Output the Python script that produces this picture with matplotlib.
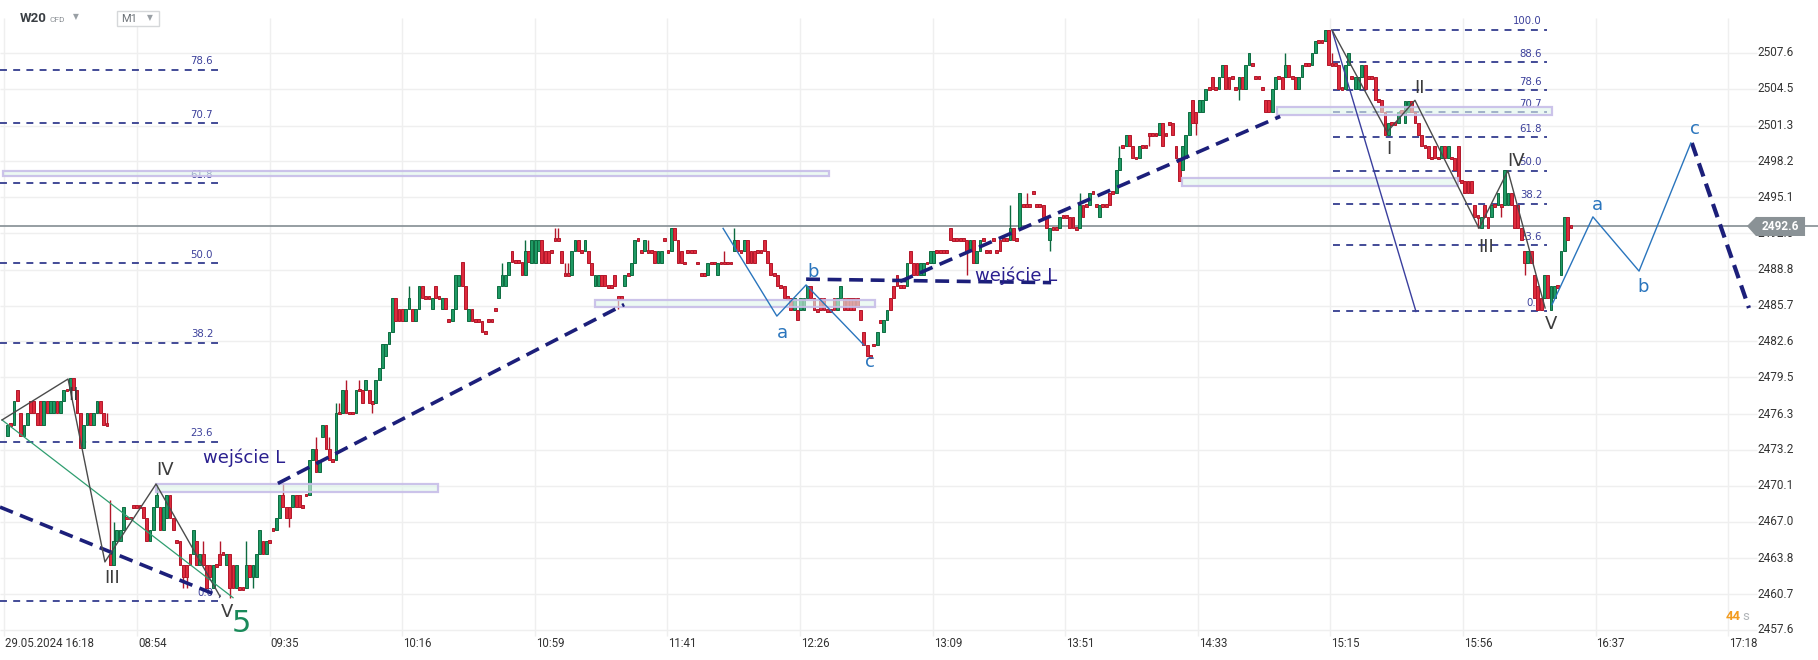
import matplotlib
matplotlib.use("Agg")
import matplotlib.pyplot as plt
from matplotlib.patches import Rectangle, Polygon

plt.rcParams['lines.scale_dashes'] = False

# --- bougies M1 (open, close) ---
seg_29may = [(2474.4,2475.4),(2475.4,2475.4),(2475.4,2477.4),(2478.4,2477.4),(2476.4,2474.4),(2474.4,2475.4),
             (2475.4,2476.4),(2477.4,2476.4),(2477.4,2476.4),(2476.4,2475.4),(2477.4,2475.4),(2475.4,2477.4),
             (2477.4,2476.4),(2476.4,2477.4),(2476.4,2477.4),(2477.4,2476.4),(2476.4,2477.4),(2477.4,2478.4),
             (2478.4,2478.4),(2478.4,2479.4),(2479.4,2478.4),(2478.4,2476.4),(2476.4,2473.4),(2473.4,2475.4),
             (2475.4,2476.4),(2476.4,2475.4),(2475.4,2476.4),(2476.4,2477.4),(2477.4,2476.4),(2476.4,2475.4),
             (2475.4,2475.4)]
seg_open = [(2464.2,2463.2),(2463.2,2465.3),(2465.3,2466.3),(2465.3,2466.3),(2466.3,2468.3),(2467.3,2467.3),
            (2467.3,2467.3),(2468.3,2468.3),(2468.3,2468.3),(2468.3,2468.3),(2468.3,2467.3),(2467.3,2465.3),
            (2465.3,2466.3),(2466.3,2468.3),(2468.3,2469.3),(2468.3,2466.3),(2466.3,2468.3),(2467.3,2469.3),
            (2469.3,2467.3),(2467.3,2466.3),(2465.3,2465.3),(2465.3,2463.2),(2463.2,2462.2),(2463.2,2462.2),
            (2464.2,2463.2),(2464.2,2466.3),(2465.3,2463.2),(2463.2,2464.2),(2464.2,2463.2),(2463.2,2461.2),
            (2463.2,2462.2),(2461.2,2463.2),(2463.2,2463.2),(2464.2,2463.2),(2464.2,2464.2),(2463.2,2464.2),
            (2464.2,2461.2),(2463.2,2461.2),(2461.2,2463.2),(2461.2,2461.2),(2461.2,2461.2),(2461.2,2463.2),
            (2463.2,2462.2),(2462.2,2463.2),(2462.2,2464.2),(2464.2,2466.3),(2465.3,2464.2),(2464.2,2465.3),
            (2465.3,2465.3),(2466.3,2466.3),(2466.3,2467.3),(2467.3,2469.3),(2469.3,2468.3)]
seg_rally = [(2468.3,2467.3),(2468.3,2467.3),(2468.3,2469.3),(2469.3,2468.3),(2469.3,2468.3),(2468.3,2468.3),
             (2469.3,2469.3),(2469.3,2472.3),(2472.3,2473.3),(2473.3,2471.3),(2471.3,2472.3),(2474.3,2475.4),
             (2475.4,2473.3),(2473.3,2472.3),(2472.3,2472.3),(2472.3,2476.4),(2476.4,2476.4),(2476.4,2478.4),
             (2478.4,2476.4),(2476.4,2476.4),(2476.4,2476.4),(2476.4,2478.4),(2478.4,2478.4),(2478.4,2477.3),
             (2478.4,2479.3),(2478.4,2477.3),(2477.3,2477.3),(2477.3,2479.3),(2479.3,2480.3),(2480.3,2482.4),
             (2481.3,2482.4),(2482.4,2483.4),(2483.4,2486.4),(2486.4,2484.4),(2485.4,2484.4),(2485.4,2484.4),
             (2484.4,2485.4),(2485.4,2486.4),(2485.4,2484.4),(2484.4,2485.4),(2485.4,2487.4),(2487.4,2486.4),
             (2486.4,2486.4),(2486.4,2486.4),(2485.4,2486.4),(2487.4,2486.4),(2486.4,2486.4),(2485.4,2486.4),
             (2486.4,2485.4),(2484.4,2484.4),(2484.4,2485.4),(2485.4,2488.4),(2487.4,2488.4),(2489.5,2487.4),
             (2487.4,2485.4),(2484.4,2485.4),(2485.4,2484.4),(2484.4,2484.4),(2484.4,2484.4),(2484.4,2483.4),
             (2483.4,2483.4),(2484.4,2484.4),(2484.4,2484.4),(2485.4,2485.4),(2486.4,2487.4),(2487.4,2488.4),
             (2487.4,2488.4),(2488.4,2489.5),(2490.4,2489.5),(2489.5,2489.5),(2489.5,2489.5),(2489.5,2488.4),
             (2488.4,2490.4),(2490.4,2489.5)]
seg_range = [(2489.4,2491.4),(2489.4,2491.4),(2490.4,2491.4),(2491.4,2489.4),(2490.4,2489.4),(2490.4,2489.4),
             (2490.4,2490.4),(2491.4,2491.4),(2491.4,2491.4),(2490.4,2489.4),(2488.4,2488.4),(2488.4,2488.4),
             (2488.4,2490.4),(2490.4,2491.4),(2491.4,2490.4),(2490.4,2490.4),(2490.4,2491.4),(2490.4,2489.4),
             (2489.4,2488.4),(2487.4,2488.4),(2487.4,2488.4),(2488.4,2487.4),(2488.4,2487.4),(2487.4,2487.4),
             (2487.4,2487.4),(2488.4,2487.4),(2486.4,2486.4),(2486.4,2486.4),(2487.4,2488.4),(2488.4,2488.4),
             (2488.4,2489.4),(2489.4,2491.4),(2491.4,2491.4),(2490.4,2490.4),(2490.4,2491.4),(2490.4,2490.4),
             (2490.4,2490.4),(2490.4,2489.4),(2489.4,2490.4),(2489.4,2490.4),(2491.4,2491.4),(2490.4,2490.4),
             (2490.4,2492.4),(2492.4,2491.4),(2491.4,2489.4),(2490.4,2489.4),(2489.4,2489.4),(2490.4,2490.4),
             (2490.4,2490.4),(2490.4,2490.4),(2489.4,2489.4),(2488.4,2488.4),(2488.4,2488.4),(2488.4,2489.4),
             (2489.4,2489.4),(2489.4,2489.4),(2488.4,2489.4),(2489.4,2489.4),(2489.4,2489.4),(2489.4,2489.4),
             (2489.4,2489.4),(2490.4,2491.4),(2491.4,2490.4),(2490.4,2490.4),(2490.4,2491.4),(2491.4,2489.4),
             (2490.4,2489.4),(2490.4,2489.4),(2490.4,2490.4),(2490.4,2490.4),(2491.4,2490.4),(2490.4,2489.4),
             (2489.4,2488.4),(2488.4,2488.4),(2488.4,2487.4),(2487.4,2487.4),(2487.4,2486.4),(2486.4,2486.4)]
seg_abc = [(2486.4,2485.3),(2485.3,2486.4),(2485.3,2484.5),(2485.3,2486.4),(2485.3,2486.4),(2486.4,2487.4),
           (2487.4,2486.4),(2486.4,2485.3),(2485.3,2485.3),(2486.4,2485.3),(2486.4,2485.3),(2485.3,2485.3),
           (2485.3,2485.3),(2486.4,2485.3),(2485.3,2486.4),(2486.4,2487.4),(2486.4,2485.3),(2486.4,2485.3),
           (2486.4,2485.3),(2486.4,2485.3),(2486.4,2485.6),(2485.3,2484.5),(2483.4,2482.3),(2482.3,2481.3),
           (2481.3,2481.3),(2482.3,2482.3),(2482.3,2483.4),(2484.3,2484.3),(2483.4,2484.5),(2484.5,2485.3),
           (2486.4,2485.3),(2487.4,2486.4),(2488.4,2487.4),(2487.4,2487.4),(2487.4,2487.4),(2487.4,2489.4),
           (2490.4,2489.4),(2489.4,2488.4),(2489.4,2488.4),(2488.4,2489.4),(2488.4,2489.4),(2489.4,2489.4),
           (2489.4,2490.4),(2489.4,2490.4),(2490.4,2490.4),(2490.4,2490.4),(2490.4,2490.4),(2490.4,2490.4),
           (2492.4,2491.4),(2491.4,2491.4),(2491.4,2491.4),(2491.4,2491.4),(2491.4,2491.4),(2491.4,2490.4),
           (2490.4,2491.4),(2491.4,2489.4),(2489.4,2490.4),(2490.4,2491.4),(2491.4,2491.4),(2490.4,2490.4),
           (2490.4,2490.4),(2491.4,2491.4),(2490.4,2490.4),(2491.4,2490.4),(2491.4,2491.4),(2491.4,2491.4),
           (2491.4,2492.4)]
seg_pm = [(2492.4,2491.4),(2491.4,2491.4),(2492.4,2495.5),(2494.4,2494.4),(2494.4,2494.4),(2494.4,2494.4),
          (2495.5,2495.5),(2494.4,2494.4),(2494.4,2494.4),(2494.4,2493.4),(2493.4,2492.4),(2491.4,2492.4),
          (2492.4,2492.4),(2492.4,2492.4),(2492.4,2493.4),(2493.4,2493.4),(2493.4,2493.4),(2493.4,2492.4),
          (2493.4,2492.4),(2492.4,2492.4),(2492.4,2494.4),(2494.4,2493.4),(2494.4,2494.4),(2494.4,2495.5),
          (2495.5,2495.5),(2494.4,2494.4),(2493.4,2494.4),(2494.4,2494.4),(2494.4,2494.4),(2495.5,2494.4),
          (2495.5,2495.5),(2495.5,2497.5),(2497.5,2498.5),(2499.5,2499.5),(2499.5,2500.5),(2500.5,2499.5),
          (2499.5,2498.5),(2498.5,2498.5),(2498.5,2499.5),(2499.5,2499.5),(2499.5,2499.5),(2500.5,2500.5),
          (2500.5,2500.5),(2500.5,2500.5),(2500.5,2501.5),(2501.5,2499.5),(2500.5,2500.5),(2501.5,2501.5),
          (2501.5,2500.5),(2499.5,2498.5),(2498.5,2496.5),(2497.5,2499.5),(2498.5,2500.5),(2500.5,2502.5),
          (2503.5,2501.5),(2502.5,2501.5),(2502.5,2503.5),(2502.5,2503.5),(2503.5,2504.5),(2504.5,2504.5),
          (2505.5,2504.5),(2504.5,2504.5),(2504.5,2505.5),(2505.5,2506.6),(2506.6,2504.5),(2505.5,2504.5),
          (2505.5,2505.5),(2504.5,2504.5),(2504.5,2505.5),(2505.5,2504.5),(2504.5,2506.6),(2506.6,2507.6),
          (2506.6,2506.6),(2505.5,2505.5),(2505.5,2505.5),(2504.5,2504.5),(2503.5,2502.5),(2503.5,2502.5),
          (2502.5,2504.5),(2504.5,2505.5),(2505.5,2505.5),(2505.5,2504.5),(2505.5,2506.6),(2506.6,2505.5),
          (2505.5,2505.5),(2505.5,2504.5),(2504.5,2505.5),(2505.5,2506.6),(2506.6,2506.6),(2506.6,2506.6),
          (2506.6,2507.6),(2507.6,2508.6),(2508.6,2508.6),(2508.6,2508.6),(2508.6,2509.6)]
seg_drop = [(2509.6,2506.6),(2506.6,2506.6),(2506.6,2506.6),(2506.6,2504.5),(2504.5,2504.5),(2504.5,2506.6),
            (2506.6,2507.6),(2505.5,2505.5),(2504.5,2505.5),(2504.5,2505.5),(2505.5,2506.6),(2506.6,2504.5),
            (2505.5,2505.5),(2505.5,2505.5),(2505.5,2503.5),(2503.5,2503.5),(2503.5,2502.5),(2502.5,2500.5),
            (2500.5,2501.5),(2501.5,2501.5),(2501.5,2501.5),(2501.5,2502.5),(2502.5,2502.5),(2501.5,2503.4),
            (2502.5,2503.4),(2503.4,2502.5),(2502.5,2501.5),(2501.5,2500.5),(2500.5,2499.5),(2499.5,2499.5),
            (2499.5,2498.5),(2498.5,2498.5),(2499.5,2498.5),(2498.5,2498.5),(2498.5,2499.5),(2499.5,2498.5),
            (2498.5,2499.5),(2498.5,2498.5),(2498.5,2497.5),(2499.5,2496.5),(2496.5,2496.5),(2496.5,2495.5),
            (2496.5,2495.5),(2496.5,2495.5),(2494.4,2493.4),(2493.4,2493.4),(2492.4,2493.4),(2494.4,2493.4),
            (2493.4,2492.4),(2493.4,2494.4),(2494.4,2494.4),(2494.4,2495.5),(2494.4,2494.4),(2494.4,2497.5),
            (2494.4,2495.5),(2495.5,2494.4),(2494.4,2492.4),(2494.4,2492.4),(2492.4,2491.4),(2490.4,2489.4),
            (2489.4,2490.4),(2490.4,2489.4),(2488.4,2486.4),(2487.4,2485.3),(2486.4,2485.3),(2486.4,2488.4),
            (2488.4,2486.4),(2485.3,2487.4),(2486.4,2487.4),(2487.4,2487.4),(2488.4,2490.4),(2490.4,2493.4),
            (2493.4,2491.4),(2492.6,2492.6)]

# mèches qui dépassent le corps (index de bougie -> prix)
wick_high = {30: 2476.4, 31: 2468.9, 32: 2467.0, 45: 2470.3, 59: 2465.3, 64: 2465.3, 72: 2465.3, 83: 2470.3,
             93: 2474.3, 97: 2474.3, 99: 2477.3, 100: 2477.3, 102: 2479.3, 106: 2479.3, 121: 2487.4,
             149: 2489.4, 156: 2491.4, 165: 2492.4, 166: 2492.4, 168: 2489.4, 169: 2489.4, 193: 2491.4,
             216: 2490.4, 219: 2492.4, 302: 2494.4, 307: 2495.5, 323: 2495.5, 335: 2499.5, 385: 2507.6,
             399: 2507.6}
wick_low = {53: 2461.2, 54: 2461.2, 67: 2460.4, 74: 2461.2, 85: 2466.5, 110: 2476.4, 184: 2485.4,
            289: 2488.4, 314: 2490.4, 344: 2499.5, 358: 2500.5, 371: 2503.5, 443: 2492.4, 450: 2493.4,
            457: 2488.4}

last_price = 2492.6
price_ticks = [2457.6, 2460.7, 2463.8, 2467.0, 2470.1, 2473.2, 2476.3, 2479.5, 2482.6, 2485.7,
               2488.8, 2492.0, 2495.1, 2498.2, 2501.3, 2504.5, 2507.6]
time_labels = ["29.05.2024 16:18", "08:54", "09:35", "10:16", "10:59", "11:41", "12:26",
               "13:09", "13:51", "14:33", "15:15", "15:56", "16:37", "17:18"]
time_pos = [-0.9, 39.1, 79.0, 118.9, 158.9, 198.8, 238.8, 278.7, 318.6, 358.6, 398.5, 438.5, 478.4, 518.4]

# Fibonacci (x début, x fin, prix 0%, prix 100%, niveaux affichés)
fib_left = (-2.2, 63.5, 2460.1, 2518.7, [0.0, 23.6, 38.2, 50.0, 61.8, 70.7, 78.6])
fib_right = (399.3, 463.8, 2485.2, 2509.6, [0.0, 23.6, 38.2, 50.0, 61.8, 70.7, 78.6, 88.6, 100.0])

# zones (x0, x1, prix haut, prix bas)
zones = [(-1.3, 247.5, 2497.4, 2496.9), (44.8, 129.7, 2470.25, 2469.6), (177.0, 261.4, 2486.2, 2485.6),
         (353.8, 437.0, 2496.8, 2496.1), (382.4, 465.3, 2502.9, 2502.2)]

# lignes de tendance en tirets
trend_lines = [([-2.2, 64.1], [2468.25, 2460.5]), ([81.5, 185.8], [2470.3, 2485.8]),
               ([240.6, 314.4], [2488.0, 2487.7]), ([268.9, 383.4], [2487.8, 2502.1])]
proj_dash = ([507.4, 524.6], [2499.8, 2485.5])

# vagues
wave_left = ([-1.6, 18.3, 29.4, 44.8, 64.1], [2475.8, 2479.35, 2463.5, 2470.25, 2460.5])
wave_left_green = ([-1.6, 68.0], [2475.8, 2460.4])
wave_right = ([399.0, 415.6, 424.0, 443.3, 452.0, 463.2], [2509.6, 2500.75, 2503.5, 2492.4, 2497.4, 2485.5])
wave_right_navy = ([399.0, 424.3], [2509.6, 2485.2])
abc_mid = ([215.6, 231.8, 240.6, 258.0], [2492.4, 2484.8, 2487.5, 2482.3])
abc_proj = ([465.3, 477.6, 491.5, 507.1], [2485.8, 2493.4, 2488.7, 2499.8])

RED, RED_E = "#dd2a3c", "#b3172a"
GREEN, GREEN_E = "#1e9a64", "#0d6b40"
NAVY = "#1c1f7a"
FIBC = "#232c85"
GRAY_TXT = "#3c3c3c"
BLUE = "#2a75bd"

candles = seg_29may + seg_open + seg_rally + seg_range + seg_abc + seg_pm + seg_drop

fig = plt.figure(figsize=(18.18, 6.6), dpi=100)
ax = fig.add_axes([0, 0, 1, 1])
ax.set_xlim(-2.2, 545.4)
ax.set_ylim(2455.0, 2512.19)
ax.axis('off')

# grille
ax.hlines(price_ticks, -2.2, 527.0, color="#efefef", lw=1, zorder=0)
ax.vlines(time_pos, 2457.1, 2510.6, color="#efefef", lw=1, zorder=0)

# zones
for x0, x1, top, bot in zones:
    ax.add_patch(Rectangle((x0, bot), x1 - x0, top - bot, facecolor=(0.88, 0.96, 0.92, 0.6),
                           edgecolor=(0.78, 0.74, 0.91, 0.9), lw=1.6, zorder=4))

# Fibonacci
for x0, x1, p0, p100, levels in (fib_left, fib_right):
    for lv in levels:
        p = p0 + (p100 - p0) * lv / 100.0
        ax.plot([x0, x1], [p, p], color=FIBC, lw=1.2, ls=(0, (5, 4.5)), zorder=2)
        ax.annotate(f"{lv:.1f}", (x1 - 1.5, p), xytext=(0, 2.5), textcoords="offset points",
                    ha="right", va="bottom", fontsize=7.3, color="#3b3f9a", zorder=2)

# bougies
for i, (o, c) in enumerate(candles):
    up = c > o
    fc, ec = (GREEN, GREEN_E) if up else (RED, RED_E)
    lo_b, hi_b = min(o, c), max(o, c)
    h = max(hi_b - lo_b, 0.25)
    b = lo_b if hi_b - lo_b >= 0.25 else lo_b - 0.125
    hi = wick_high.get(i, hi_b)
    lo = wick_low.get(i, lo_b)
    if hi > hi_b or lo < lo_b:
        ax.vlines(i, lo, hi, color=ec, lw=1.0, zorder=3)
    ax.bar(i, h, bottom=b, width=0.84, color=fc, edgecolor=ec, linewidth=0.7, zorder=3)

# prix courant
ax.axhline(last_price, color="#8d969b", lw=1.3, zorder=2)

# lignes de tendance
for lx, ly in trend_lines:
    ax.plot(lx, ly, color=NAVY, lw=2.6, ls=(0, (10, 5.5)), zorder=5)
ax.plot(*proj_dash, color=NAVY, lw=3.0, ls=(0, (10, 5.5)), zorder=5)

# vagues
ax.plot(*wave_left_green, color="#2f9e70", lw=0.9, zorder=5)
ax.plot(*wave_left, color="#4b4b4b", lw=1.0, zorder=5)
ax.plot(*wave_right_navy, color="#3a3f9e", lw=1.0, zorder=5)
ax.plot(*wave_right, color="#4b4b4b", lw=1.0, zorder=5)
ax.plot(*abc_mid, color=BLUE, lw=1.0, zorder=5)
ax.plot(*abc_proj, color=BLUE, lw=1.0, zorder=5)

# étiquettes
txt = dict(fontsize=13, ha="center", va="center", zorder=6)
for s, x, y in [("II", 20.0, 2478.0), ("III", 31.5, 2462.1), ("IV", 47.5, 2471.5), ("V", 66.2, 2459.2),
                ("I", 416.0, 2499.3), ("II", 425.5, 2504.6), ("III", 445.5, 2490.8), ("IV", 454.5, 2498.2),
                ("V", 465.0, 2484.1)]:
    ax.text(x, y, s, color=GRAY_TXT, **txt)
for s, x, y in [("a", 233.6, 2483.3), ("b", 242.7, 2488.6), ("c", 259.9, 2480.8),
                ("a", 479.1, 2494.4), ("b", 492.8, 2487.3), ("c", 508.3, 2501.0)]:
    ax.text(x, y, s, color=BLUE, **txt)
ax.text(59.0, 2472.5, "wejście L", color="#2a1f8f", fontsize=13, ha="left", va="center", zorder=6)
ax.text(291.5, 2488.3, "wejście L", color="#2a1f8f", fontsize=13, ha="left", va="center", zorder=6)
ax.text(70.6, 2458.2, "5", color="#1a8a5a", fontsize=22, ha="center", va="center", zorder=6)

# axe des prix
for v in price_ticks:
    ax.text(527.3, v, f"{v:.1f}", fontsize=8.5, family="Roboto", color="#333333",
            ha="left", va="center", zorder=6)
ax.add_patch(Polygon([(524.0, last_price), (526.7, 2493.39), (541.5, 2493.39), (541.5, 2491.74),
                      (526.7, 2491.74)], closed=True, facecolor="#8a9296", edgecolor="none", zorder=7))
ax.text(534.1, last_price, f"{last_price:.1f}", fontsize=8.5, family="Roboto", weight="bold",
        color="white", ha="center", va="center", zorder=8)

# axe du temps
for x, s in zip(time_pos, time_labels):
    ax.text(x + 0.3, 2456.45, s, fontsize=8.3, family="Roboto", color="#333333",
            ha="left", va="center", zorder=6)

# en-tête
W, H = 1818.0, 660.0
fig.text(20 / W, 1 - 19 / H, "W20", fontsize=9.5, weight="bold", family="Roboto", color="#3a3f44", va="center")
fig.text(49 / W, 1 - 19.5 / H, "CFD", fontsize=6, family="Roboto", color="#8a8f94", va="center")
fig.text(73 / W, 1 - 17 / H, "▼", fontsize=5.5, color="#9aa0a5", va="center")
fig.patches.append(Rectangle((117 / W, 1 - 26 / H), 42 / W, 15 / H, transform=fig.transFigure,
                             facecolor="white", edgecolor="#d6d8da", lw=1))
fig.text(121 / W, 1 - 19 / H, "M1", fontsize=8, family="Roboto", color="#6d7378", va="center")
fig.text(147 / W, 1 - 18 / H, "▼", fontsize=5.5, color="#9aa0a5", va="center")
fig.text(1726 / W, 1 - 616 / H, "44", fontsize=9.5, weight="bold", family="Roboto", color="#f39c1f", va="center")
fig.text(1742 / W, 1 - 617 / H, "s", fontsize=9.5, family="Roboto", color="#b0b4b8", va="center")

fig.savefig("out.png", dpi=100)
